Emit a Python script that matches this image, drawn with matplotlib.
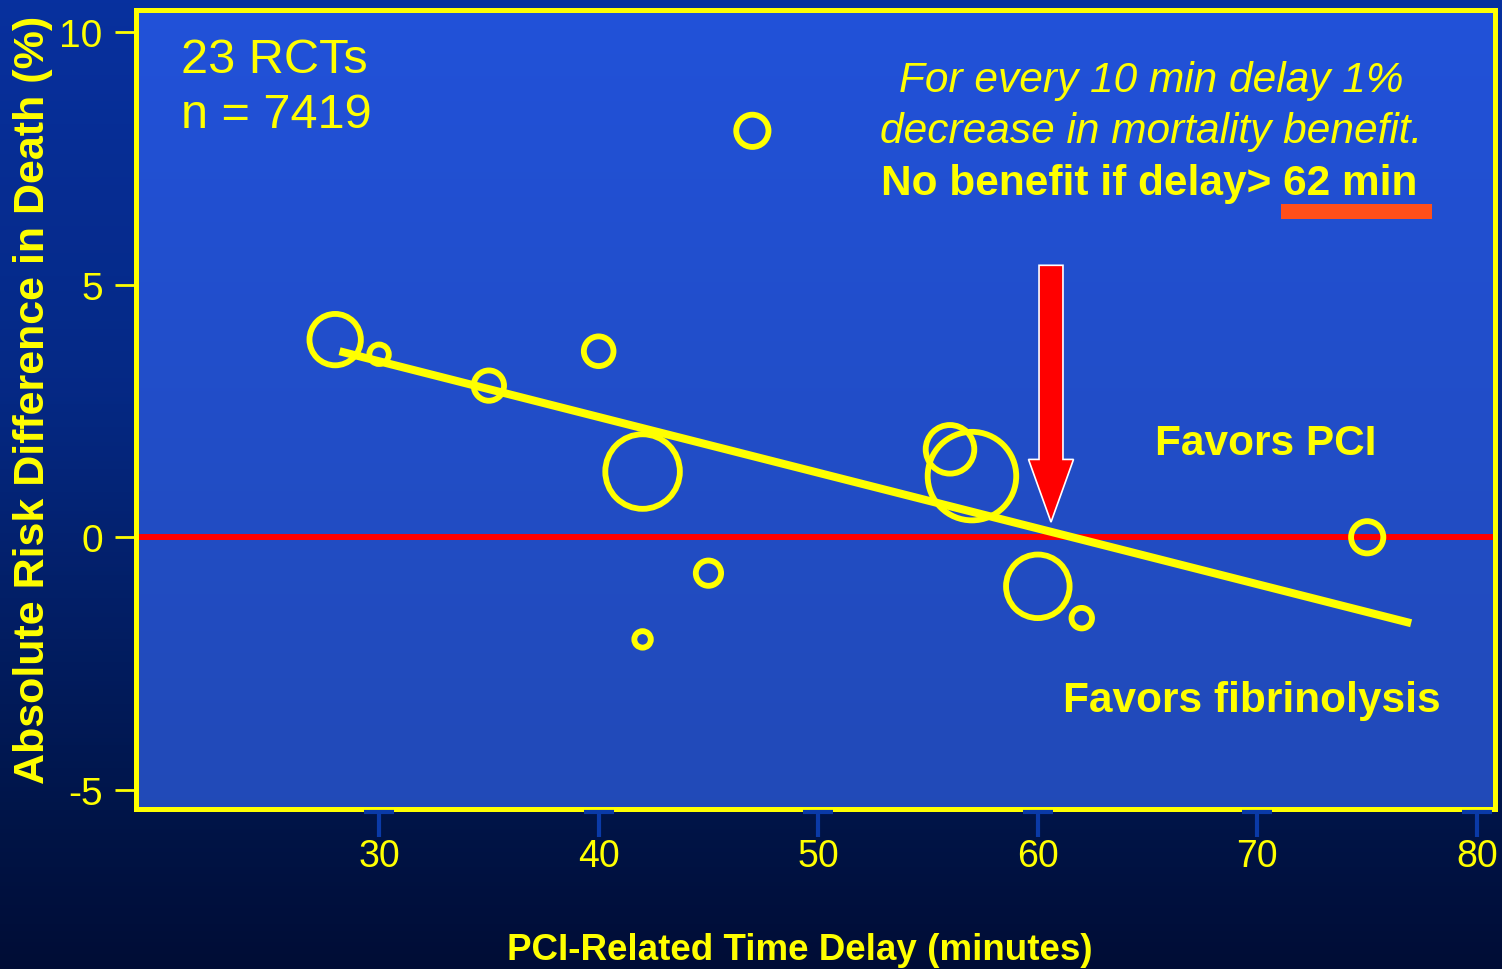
"""
plot.py - PCI-related time delay vs absolute risk difference in death (23 RCTs)

Output: out.png
"""

import numpy as np
import matplotlib
matplotlib.use("Agg")
import matplotlib.pyplot as plt
import matplotlib.transforms as mtransforms
from matplotlib.colors import LinearSegmentedColormap
from matplotlib.patches import FancyArrow, Rectangle

plt.rcParams["font.family"] = ["Liberation Sans", "DejaVu Sans"]
plt.rcParams["axes.unicode_minus"] = False

# ── Data ─────────────────────────────────────────────────────────────────────
delay_min = [28, 30, 35, 40, 42, 42, 45, 47, 56, 57, 60, 62, 75]
risk_diff = [3.91, 3.62, 3.00, 3.68, 1.30, -2.02, -0.71, 8.04, 1.74, 1.21, -0.97, -1.60, 0.0]
trial_weight = [6.6, 0.95, 2.3, 2.2, 13.9, 0.68, 1.6, 2.6, 5.9, 19.6, 10.1, 1.05, 2.6]

fit_x = [28.2, 77.0]
fit_y = [3.68, -1.70]

x_ticks = [30, 40, 50, 60, 70, 80]
y_ticks = [-5, 0, 5, 10]

YELLOW = "#ffff00"
RED = "#ff0000"
TICK_BLUE = "#0a3aa8"

# ── Figure + gradient backgrounds ────────────────────────────────────────────
fig = plt.figure(figsize=(15.02, 9.70), dpi=100)

bg = fig.add_axes([0, 0, 1, 1], zorder=-10)
bg_cmap = LinearSegmentedColormap.from_list(
    "bg", [(0.0, (0.0, 0.05, 0.21)), (0.15, (0.0, 0.08, 0.28)),
           (0.6, (0.02, 0.16, 0.52)), (1.0, (0.03, 0.19, 0.62))])
bg.imshow(np.linspace(0, 1, 256).reshape(-1, 1), cmap=bg_cmap, aspect="auto",
          origin="lower", extent=[0, 1, 0, 1])
bg.set_axis_off()

ax = fig.add_axes([136 / 1502, 1 - 810 / 970, 1359 / 1502, 799 / 970])
ax.set_xlim(18.93, 80.82)
ax.set_ylim(-5.375, 10.43)

ax_cmap = LinearSegmentedColormap.from_list(
    "axbg", [(0.0, (0.13, 0.29, 0.72)), (1.0, (0.13, 0.32, 0.85))])
ax.imshow(np.linspace(0, 1, 256).reshape(-1, 1), cmap=ax_cmap, aspect="auto",
          origin="lower", extent=[18.93, 80.82, -5.375, 10.43], zorder=0)

# ── Marks ────────────────────────────────────────────────────────────────────
ax.axhline(0, color=RED, linewidth=4.3, zorder=1)
ax.plot(fit_x, fit_y, color=YELLOW, linewidth=5.8, solid_capstyle="butt", zorder=2)
sizes = 207.36 * np.array(trial_weight)
ax.scatter(delay_min, risk_diff, s=sizes, facecolors="none", edgecolors=YELLOW,
           linewidths=4.2, zorder=3)

# red arrow pointing at the zero crossing
ax.add_patch(FancyArrow(60.60, 5.38, 0, -5.08, width=1.09, head_width=2.05,
                        head_length=1.24, length_includes_head=True,
                        facecolor=RED, edgecolor="white", linewidth=1.2, zorder=4))

# ── Text ─────────────────────────────────────────────────────────────────────
ax.text(20.98, 9.20, "23 RCTs", color=YELLOW, fontsize=35, va="baseline", zorder=5)
ax.text(20.98, 8.12, "n = 7419", color=YELLOW, fontsize=35, va="baseline", zorder=5)

ax.text(65.15, 8.83, "For every 10 min delay 1%", color=YELLOW, fontsize=30.5,
        style="italic", ha="center", va="baseline", zorder=5)
ax.text(65.15, 7.82, "decrease in mortality benefit.", color=YELLOW, fontsize=30.5,
        style="italic", ha="center", va="baseline", zorder=5)
ax.text(65.05, 6.80, "No benefit if delay> 62 min", color=YELLOW, fontsize=30.5,
        fontweight="bold", ha="center", va="baseline", zorder=5)
ax.add_patch(Rectangle((71.07, 6.30), 6.88, 0.30, facecolor="#ff4f1a",
                       edgecolor="none", zorder=5))

ax.text(65.34, 1.64, "Favors PCI", color=YELLOW, fontsize=30.5, fontweight="bold",
        va="baseline", zorder=5)
ax.text(61.15, -3.44, "Favors fibrinolysis", color=YELLOW, fontsize=30.5,
        fontweight="bold", va="baseline", zorder=5)

fig.text(33 / 1502, 1 - 400 / 970, "Absolute Risk Difference in Death (%)",
         color=YELLOW, fontsize=31, fontweight="bold", rotation=90,
         ha="center", va="center")
fig.text(800 / 1502, 1 - 951 / 970, "PCI-Related Time Delay (minutes)",
         color=YELLOW, fontsize=26.5, fontweight="bold", ha="center", va="center")

# ── Axes styling ─────────────────────────────────────────────────────────────
for sp in ax.spines.values():
    sp.set_color(YELLOW)
    sp.set_linewidth(3.6)
    sp.set_zorder(6)

ax.set_xticks(x_ticks)
ax.set_yticks(y_ticks)
ax.tick_params(axis="x", colors=TICK_BLUE, labelcolor=YELLOW, labelsize=27,
               length=20, width=3, pad=1, direction="out")
ax.tick_params(axis="y", colors=YELLOW, labelcolor=YELLOW, labelsize=28,
               length=15, width=2, pad=9, direction="out")
for val, tk in zip(y_ticks, ax.yaxis.get_major_ticks()):
    if val == 0:
        tk.tick1line.set_color(RED)
    elif val == 10:
        tk.tick1line.set_color(TICK_BLUE)

# T-shaped cross bars on the x ticks
bar_tr = mtransforms.blended_transform_factory(ax.transData, ax.transAxes)
bar_tr = bar_tr + mtransforms.ScaledTranslation(0, -2 / 72, fig.dpi_scale_trans)
ax.plot(x_ticks, [0] * len(x_ticks), transform=bar_tr, linestyle="none",
        marker="_", markersize=22, markeredgewidth=3, color=TICK_BLUE,
        clip_on=False, zorder=7)

plt.savefig("out.png", dpi=100)
print("Saved: out.png")
